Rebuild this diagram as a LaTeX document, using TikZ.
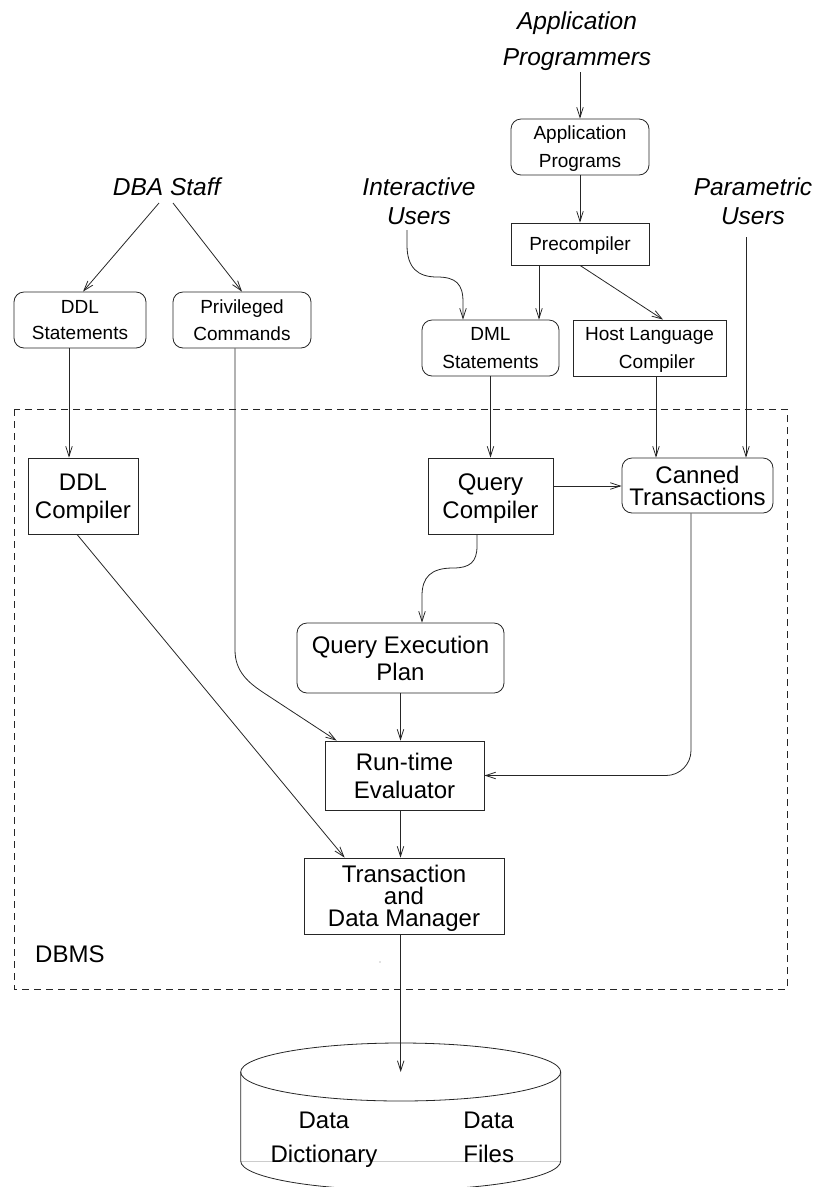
\documentclass[tikz,border=0pt]{standalone}
\usepackage{fontspec}
\newfontfamily\hv{Liberation Sans}
\usetikzlibrary{arrows.meta,calc}
\begin{document}
\begin{tikzpicture}[x=1pt,y=-1pt,
  wire/.style={draw=black!85, line width=0.8pt},
  arr/.style={wire, -{Straight Barb[length=10pt,width=6.5pt]}},
  bx/.style={wire, inner sep=0pt, align=center, text depth=0pt},
  rbx/.style={bx, rounded corners=10pt},
  fs/.style={font=\hv\fontsize{19}{#1}\selectfont},
  fl/.style={font=\hv\fontsize{24}{#1}\selectfont},
  lab/.style={inner sep=0pt, align=center, anchor=base, font=\hv\itshape\fontsize{24.5}{#1}\selectfont},
  plain/.style={inner sep=0pt, align=center, anchor=base, font=\hv\fontsize{24}{#1}\selectfont},
]
\useasboundingbox (0,0) rectangle (815,1187);

% DBMS frame
\draw[wire, dash pattern=on 7pt off 5pt] (14,409) rectangle (787,989);
\node[plain=28, anchor=base west] (ldbms) at (35,962.6) {DBMS};
\fill[black!50] (380,962) circle (0.7pt);

% user labels (anchored at the baseline of their last line)
\node[lab=36] (lapp) at (577,65) {Application\\Programmers};
\node[lab=29] (lint) at (419,224) {Interactive\\Users};
\node[lab=29] (lpar) at (753,224) {Parametric\\Users};
\node[lab=29] (ldba) at (166.7,195) {DBA Staff};

% boxes
\node[rbx, fs=28, text height=41.7pt, minimum width=138pt, minimum height=56pt] (apps) at (580,147) {Application\\Programs};
\node[bx, fs=28, text height=13.7pt, minimum width=138pt, minimum height=42pt] (prec) at (580,244) {Precompiler};
\node[rbx, fs=26, text height=39.7pt, minimum width=132pt, minimum height=56pt] (ddls) at (80,320) {DDL\\Statements};
\node[rbx, fs=27, text height=40.7pt, minimum width=138pt, minimum height=56pt] (priv) at (242,320) {Privileged\\Commands};
\node[rbx, fs=28, text height=41.7pt, minimum width=137pt, minimum height=56pt] (dml) at (490.5,348) {DML\\Statements};
\node[bx, fs=28, text height=41.7pt, minimum width=153pt, minimum height=56pt] (host) at (649.5,348) {Host Language\\\hspace*{15pt}Compiler};
\node[bx, fl=28, text height=45.3pt, minimum width=110pt, minimum height=76pt] (ddlc) at (83,496) {DDL\\Compiler};
\node[bx, fl=28, text height=45.3pt, minimum width=125pt, minimum height=76pt] (qc) at (490.5,496) {Query\\Compiler};
\node[rbx, fl=22, text height=39.3pt, minimum width=151pt, minimum height=55pt] (can) at (697.5,485.5) {Canned\\Transactions};
\node[rbx, fl=27, text height=44.3pt, minimum width=207pt, minimum height=70pt] (qep) at (400.5,658) {Query Execution\\Plan};
\node[bx, fl=28, text height=45.3pt, minimum width=159pt, minimum height=69pt] (rte) at (404.5,775.5) {Run-time\\Evaluator};
\node[bx, fl=22, text height=61.3pt, minimum width=200pt, minimum height=76pt] (tdm) at (404,896) {Transaction\\and\\Data Manager};

% database cylinder
\coordinate (dbtop) at (400.7,1072);
\draw[black!20, line width=0.8pt] (241,1161.7) -- (560,1161.7);
\draw[wire] (dbtop) ellipse [x radius=160pt, y radius=29pt];
\draw[wire] (240.7,1072) -- (240.7,1161) arc[start angle=180, end angle=360, x radius=160pt, y radius=29pt] -- (560.7,1072);
\node[plain=34] (dd) at (324,1162) {Data\\Dictionary};
\node[plain=34] (df) at (488.7,1162) {Data\\Files};

% free ends
\coordinate (appS) at (580,72);
\coordinate (dbaL) at (159,203);
\coordinate (dbaR) at (173,203);
\coordinate (intS) at (407,230);
\coordinate (parS) at (746,237);
\coordinate (d1) at ([xshift=-11pt]ddls.south);
\coordinate (p1) at ([xshift=-41pt]prec.south);
\coordinate (h1) at ([xshift=6.5pt]host.south);
\coordinate (q1) at ([yshift=10pt]qc.east);
\coordinate (r1) at ([xshift=-4pt]rte.south);

% connectors
\draw[arr] (appS) -- (apps.north);
\draw[arr] (apps.south) -- (prec.north);
\draw[arr] (dbaL) -- ([xshift=3pt]ddls.north);
\draw[arr] (dbaR) -- (priv.north);
\draw[arr] (d1) -- (d1 |- ddlc.north);
\draw[arr] (intS) -- (407,245) .. controls (407,268) and (418,277) .. (437,277)
  .. controls (456,277) and (463,284) .. (463,302) -- ([xshift=-27.5pt]dml.north);
\draw[arr] (p1) -- (p1 |- dml.north);
\draw[arr] (prec.south) -- ([xshift=13.5pt]host.north);
\draw[arr] (dml.south) -- (qc.north);
\draw[arr] (h1) -- (h1 |- can.north);
\draw[arr] (parS) -- (parS |- can.north);
\draw[arr] (q1) -- (q1 -| can.west);
\draw[arr] ([xshift=-13.5pt]qc.south) -- (477,546) .. controls (477,562) and (470,568) .. (453,568)
  .. controls (431,568) and (422,577) .. (422,596) -- ([xshift=21.5pt]qep.north);
\draw[arr] (qep.south) -- (qep.south |- rte.north);
\draw[arr, rounded corners=25pt] ([xshift=-6.5pt]can.south) |- (rte.east);
\draw[arr] ([xshift=-7pt]priv.south) -- (235,650) .. controls (235,672) and (249,683) .. (264,693)
  -- ([xshift=12pt]rte.north west);
\draw[arr] (r1) -- (r1 |- tdm.north);
\draw[arr] ([xshift=-6pt]ddlc.south) -- ([xshift=41pt]tdm.north west);
\draw[arr] (tdm.south -| dbtop) -- (dbtop);
\end{tikzpicture}
\end{document}
